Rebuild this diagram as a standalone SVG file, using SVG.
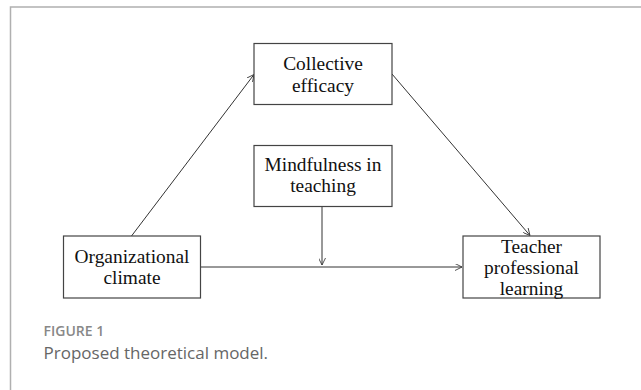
<svg xmlns="http://www.w3.org/2000/svg" width="641" height="390" viewBox="0 0 641 390">
<defs>
<style>
.box{fill:#fff;stroke:#444;stroke-width:1.2}
.lbl{font-family:"Liberation Serif","Times New Roman",serif;font-size:19.4px;fill:#111;text-anchor:middle}
.con{stroke:#333;stroke-width:1;fill:none;marker-end:url(#arr)}
.frame{stroke:#b0b0b0;stroke-width:1.5;fill:none}
</style>
<marker id="arr" viewBox="0 0 10 10" refX="10" refY="5" markerWidth="7" markerHeight="7" markerUnits="userSpaceOnUse" orient="auto">
<path d="M0,0 L10,5 L0,10" fill="none" stroke="#333" stroke-width="1.2"/>
</marker>
</defs>
<rect width="641" height="390" fill="#fff"/>
<path class="frame" d="M10.5,390 V7 H641"/>
<g id="connectors">
<line class="con" x1="131.5" y1="236" x2="254" y2="74.5"/>
<line class="con" x1="392" y1="74" x2="530" y2="235.5"/>
<line class="con" x1="322" y1="207" x2="322" y2="265"/>
<line class="con" x1="200" y1="267" x2="462" y2="267"/>
</g>
<g id="collective">
<rect class="box" x="254" y="43.5" width="138" height="61"/>
<text class="lbl" x="323" y="70">Collective</text>
<text class="lbl" x="323" y="91.5">efficacy</text>
</g>
<g id="mindfulness">
<rect class="box" x="254" y="145.5" width="138" height="61"/>
<text class="lbl" x="323" y="170.5">Mindfulness in</text>
<text class="lbl" x="323" y="191.5">teaching</text>
</g>
<g id="organizational">
<rect class="box" x="63.5" y="236" width="137" height="62"/>
<text class="lbl" x="132" y="263">Organizational</text>
<text class="lbl" x="132" y="284">climate</text>
</g>
<g id="teacher">
<rect class="box" x="463" y="236" width="137" height="62"/>
<text class="lbl" x="531.5" y="252.5">Teacher</text>
<text class="lbl" x="531.5" y="273.5">professional</text>
<text class="lbl" x="531.5" y="294.5">learning</text>
</g>
<text x="43.5" y="336" font-family="'Open Sans',sans-serif" font-size="14" font-weight="600" fill="#888">FIGURE 1</text>
<text x="43.5" y="358.5" font-family="'Open Sans',sans-serif" font-size="17" fill="#666">Proposed theoretical model.</text>
</svg>
